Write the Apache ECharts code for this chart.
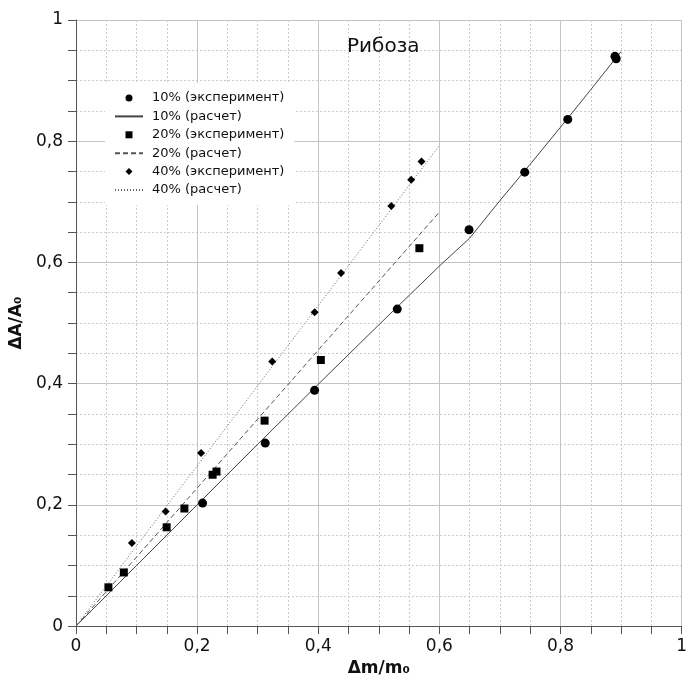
<!DOCTYPE html>
<html>
<head>
<meta charset="utf-8">
<script src="https://cdn.jsdelivr.net/npm/echarts@6/dist/echarts.min.js"></script>
<style>
  html, body { margin: 0; padding: 0; background: #fff; }
  #chart { width: 690px; height: 682px; }
</style>
</head>
<body>
<div id="chart"></div>
<script>
// Ribose: relative absorbance change vs relative mass change
const titleText = 'Рибоза';
const xName = 'Δm/m₀';
const yName = 'ΔA/A₀';

const seriesNames = [
  '10% (эксперимент)', '10% (расчет)',
  '20% (эксперимент)', '20% (расчет)',
  '40% (эксперимент)', '40% (расчет)'
];

// measured points [Δm/m0, ΔA/A0]
const exp10 = [
  [0.209, 0.203], [0.3125, 0.302], [0.394, 0.389], [0.5305, 0.523],
  [0.649, 0.654], [0.741, 0.749], [0.812, 0.836], [0.890, 0.940], [0.892, 0.936]
];
const exp20 = [
  [0.0535, 0.064], [0.079, 0.0885], [0.1497, 0.163], [0.179, 0.194],
  [0.2256, 0.2497], [0.232, 0.255], [0.3114, 0.339], [0.4043, 0.439], [0.567, 0.6235]
];
const exp40 = [
  [0.0923, 0.137], [0.148, 0.189], [0.2065, 0.2857], [0.324, 0.4366],
  [0.394, 0.518], [0.4377, 0.5825], [0.5207, 0.693], [0.5535, 0.7366], [0.5705, 0.7667]
];

// calculated curves
const calc10 = [
  [0, 0], [0.1, 0.1], [0.2, 0.2], [0.3, 0.3], [0.4, 0.399], [0.5, 0.497],
  [0.6, 0.594], [0.65, 0.64], [0.7, 0.702], [0.75, 0.762], [0.8, 0.823],
  [0.85, 0.885], [0.9, 0.948]
];
const calc20 = [[0, 0], [0.6, 0.683]];
const calc40 = [[0, 0], [0.6, 0.793]];

const axisTicks = [0, 0.2, 0.4, 0.6, 0.8, 1];

const FONT = 'DejaVu Sans';
const fmt = v => String(+v.toFixed(2)).replace('.', ',');

// marker outlines used by the legend (keep their square aspect)
const SQUARE_ICON = 'path://M0,0H10V10H0Z';
const DIAMOND_ICON = 'path://M5,0L10,5L5,10L0,5Z';

function valueAxis(extra, labelMargin) {
  return Object.assign({
    type: 'value',
    min: 0, max: 1, interval: 0.2,
    nameLocation: 'middle',
    nameTextStyle: { fontFamily: FONT, fontSize: 17, fontWeight: 'bold', color: '#111' },
    axisLine: { show: true, onZero: false, lineStyle: { color: '#555', width: 1 } },
    axisTick: { show: true, inside: false, length: 8, lineStyle: { color: '#555' } },
    minorTick: { show: true, splitNumber: 4, length: 8, lineStyle: { color: '#555' } },
    axisLabel: {
      fontFamily: FONT, fontSize: 17, color: '#111', margin: labelMargin,
      formatter: v => axisTicks.some(t => Math.abs(t - v) < 1e-9) ? fmt(v) : ''
    },
    splitLine: { show: true, lineStyle: { color: '#c4c4c4', width: 1 } },
    minorSplitLine: { show: true, lineStyle: { color: '#cccccc', width: 1, type: [2, 2] } }
  }, extra);
}

const chart = echarts.init(document.getElementById('chart'), null, { renderer: 'canvas' });

chart.setOption({
  animation: false,
  backgroundColor: '#fff',
  title: {
    text: titleText,
    left: 342, top: 32,
    textStyle: { fontFamily: FONT, fontSize: 20, fontWeight: 'normal', color: '#111' }
  },
  grid: { left: 76, top: 20, width: 610, height: 610, containLabel: false },
  xAxis: valueAxis({ name: xName, nameGap: 30 }, 12),
  yAxis: valueAxis({ name: yName, nameGap: 43 }, 13),
  legend: {
    orient: 'vertical',
    left: 105, top: 83,
    padding: [8, 10, 8, 9],
    backgroundColor: '#fff',
    itemWidth: 28, itemHeight: 7, itemGap: 4.4,
    symbolKeepAspect: true,
    textStyle: { fontFamily: FONT, fontSize: 13, color: '#111', lineHeight: 14, padding: [0, 0, 0, 4] },
    data: [
      { name: seriesNames[0], icon: 'circle' },
      { name: seriesNames[1], itemStyle: { opacity: 0 } },
      { name: seriesNames[2], icon: SQUARE_ICON },
      { name: seriesNames[3], itemStyle: { opacity: 0 } },
      { name: seriesNames[4], icon: DIAMOND_ICON },
      { name: seriesNames[5], itemStyle: { opacity: 0 } }
    ]
  },
  series: [
    {
      name: seriesNames[0], type: 'scatter', data: exp10, z: 5,
      symbol: 'circle', symbolSize: 9, itemStyle: { color: '#000', opacity: 1 }
    },
    {
      name: seriesNames[1], type: 'line', data: calc10, symbol: 'none',
      itemStyle: { color: '#444' },
      lineStyle: { color: '#444', width: 1, type: 'solid' }
    },
    {
      name: seriesNames[2], type: 'scatter', data: exp20, z: 5,
      symbol: 'rect', symbolSize: 8, itemStyle: { color: '#000', opacity: 1 }
    },
    {
      name: seriesNames[3], type: 'line', data: calc20, symbol: 'none',
      itemStyle: { color: '#555' },
      lineStyle: { color: '#555', width: 1, type: [5, 3] }
    },
    {
      name: seriesNames[4], type: 'scatter', data: exp40, z: 5,
      symbol: 'diamond', symbolSize: 8, itemStyle: { color: '#000', opacity: 1 }
    },
    {
      name: seriesNames[5], type: 'line', data: calc40, symbol: 'none',
      itemStyle: { color: '#666' },
      lineStyle: { color: '#666', width: 1, type: [1, 2] }
    }
  ]
});
</script>
</body>
</html>
